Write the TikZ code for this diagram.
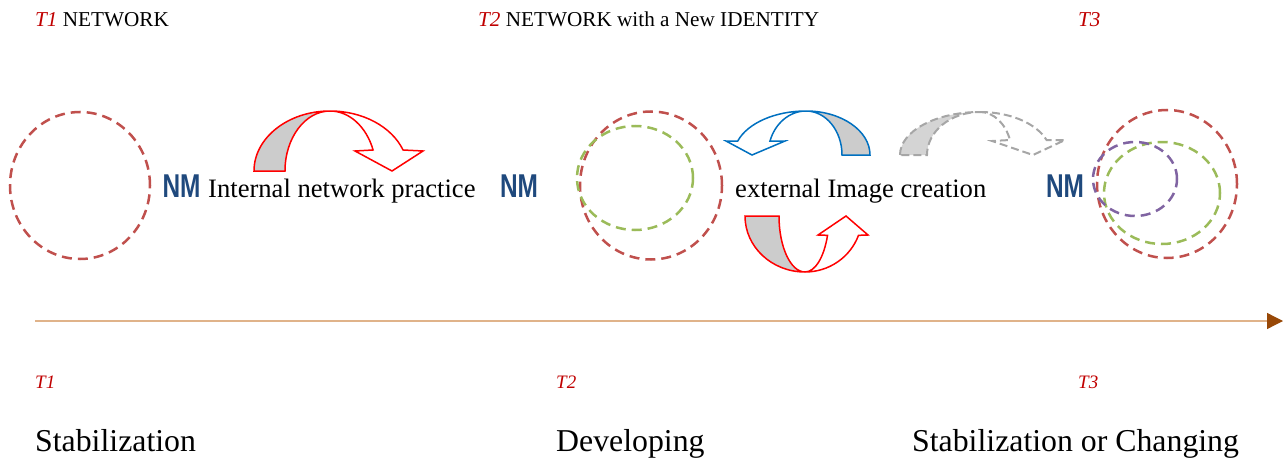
\documentclass[tikz,border=0pt]{standalone}
\usepackage{fontspec}
\setmainfont{Liberation Serif}
\newfontfamily\nmfont{Liberation Sans}
\usetikzlibrary{arrows.meta}
\definecolor{ringred}{HTML}{C0504D}
\definecolor{ringgreen}{HTML}{9BBB59}
\definecolor{ringpurple}{HTML}{8064A2}
\definecolor{nmblue}{HTML}{1F497D}
\definecolor{loopblue}{HTML}{0070C0}
\definecolor{tred}{HTML}{C00000}
\definecolor{axisline}{HTML}{E0B38A}
\definecolor{axishead}{HTML}{984807}
\definecolor{bandgray}{HTML}{CCCCCC}
\definecolor{ghostline}{HTML}{A6A6A6}
\definecolor{ghostfill}{HTML}{D4D4D4}
\begin{document}
\begin{tikzpicture}[x=1pt,y=1pt,
  ring/.style={line width=2.5pt, dash pattern=on 10pt off 6pt},
  nm/.style={font=\nmfont\bfseries\fontsize{33}{34}\selectfont, text=nmblue, inner sep=0pt},
  midtext/.style={font=\fontsize{26.6}{30}\selectfont, inner sep=0pt, anchor=base west},
  headtext/.style={font=\fontsize{21.2}{24}\selectfont, inner sep=0pt, anchor=base west},
  tlabel/.style={font=\itshape\fontsize{19}{22}\selectfont, text=tred, inner sep=0pt, anchor=base west},
  phase/.style={font=\fontsize{31.8}{36}\selectfont, inner sep=0pt, anchor=base west},
  redloop/.style={draw=red, line width=1.5pt, line join=miter},
  blueloop/.style={draw=loopblue, line width=1.5pt, line join=miter},
  ghostloop/.style={draw=ghostline, line width=2pt, dash pattern=on 8pt off 4pt, line join=miter}
]
\useasboundingbox (0,0) rectangle (1283,459);

% headings
\node[headtext] (h1) at (35,432) {\textcolor{tred}{\textit{T1}} NETWORK};
\node[headtext] (h2) at (478,432) {\textcolor{tred}{\textit{T2}} NETWORK with a New IDENTITY};
\node[headtext] (h3) at (1078,432) {\textcolor{tred}{\textit{T3}}};

% network rings
\draw[ring, ringred] (80,273.5) ellipse[x radius=70, y radius=73.5];
\draw[ring, ringred] (651,273.5) ellipse[x radius=71, y radius=74];
\draw[ring, ringgreen] (635,281) ellipse[x radius=58, y radius=52];
\draw[ring, ringred] (1167,275) ellipse[x radius=70, y radius=74];
\draw[ring, ringgreen] (1162,266) ellipse[x radius=58, y radius=51];
\draw[ring, ringpurple] (1135,280) ellipse[x radius=42, y radius=37];

% NM labels and process texts
\node[nm] (nm1) at (181.5,273) {\scalebox{0.74}[1]{NM}};
\node[nm] (nm2) at (519,273) {\scalebox{0.74}[1]{NM}};
\node[nm] (nm3) at (1065,273) {\scalebox{0.74}[1]{NM}};
\node[midtext] (internal) at (208,262) {Internal network practice};
\node[midtext] (external) at (735,262) {external Image creation};

% red loop over the internal practice
\filldraw[redloop, fill=bandgray] (254,288) arc[start angle=180, end angle=90, x radius=76, y radius=60]
  arc[start angle=90, end angle=180, x radius=45, y radius=60] -- cycle;
\filldraw[redloop, fill=white] (330,348) arc[start angle=90, end angle=20.5, x radius=78, y radius=60]
  -- (423,308) -- (392,288) -- (355,308)
  -- ([shift={(330,288)}]20.5:46 and 60)
  arc[start angle=20.5, end angle=90, x radius=46, y radius=60] -- cycle;

% blue loop
\filldraw[blueloop, fill=bandgray] (870,304) arc[start angle=0, end angle=90, x radius=64, y radius=44]
  arc[start angle=90, end angle=0, x radius=36, y radius=44] -- cycle;
\filldraw[blueloop, fill=white] (806,348) arc[start angle=90, end angle=161.5, x radius=72, y radius=44]
  -- (726,318) -- (752,304) -- (785,318)
  -- ([shift={(806,304)}]161.5:38 and 44)
  arc[start angle=161.5, end angle=90, x radius=38, y radius=44] -- cycle;

% red loop below the external image
\filldraw[redloop, fill=bandgray] (745,243) arc[start angle=180, end angle=270, x radius=60, y radius=56]
  arc[start angle=270, end angle=180, x radius=26, y radius=56] -- cycle;
\filldraw[redloop, fill=white] (805,187) arc[start angle=270, end angle=339.8, x radius=57, y radius=56]
  -- (868,224) -- (846,243) -- (818,224)
  -- ([shift={(805,243)}]339.8:24 and 56)
  arc[start angle=339.8, end angle=270, x radius=24, y radius=56] -- cycle;

% dashed grey loop towards T3
\filldraw[ghostloop, fill=ghostfill] (900,304) arc[start angle=180, end angle=90, x radius=80, y radius=43]
  arc[start angle=90, end angle=180, x radius=53, y radius=43] -- cycle;
\draw[ghostloop] (980,347) arc[start angle=90, end angle=20.4, x radius=71, y radius=43]
  -- (1065,319) -- (1033,304) -- (992,318)
  -- ([shift={(980,304)}]20.4:32 and 43)
  arc[start angle=20.4, end angle=90, x radius=32, y radius=43] -- cycle;

% time axis
\coordinate (axisStart) at (35,138);
\coordinate (axisEnd) at (1283,138);
\draw[axisline, line width=1.3pt, -{Triangle[length=16pt, width=16pt, color=axishead]}] (axisStart) -- (axisEnd);

% time labels and phases
\node[tlabel] (t1) at (35,71) {T1};
\node[tlabel] (t2) at (556,71) {T2};
\node[tlabel] (t3) at (1078,71) {T3};
\node[phase] (p1) at (35,8) {Stabilization};
\node[phase] (p2) at (556,8) {Developing};
\node[phase] (p3) at (912,8) {Stabilization or Changing};
\end{tikzpicture}
\end{document}
